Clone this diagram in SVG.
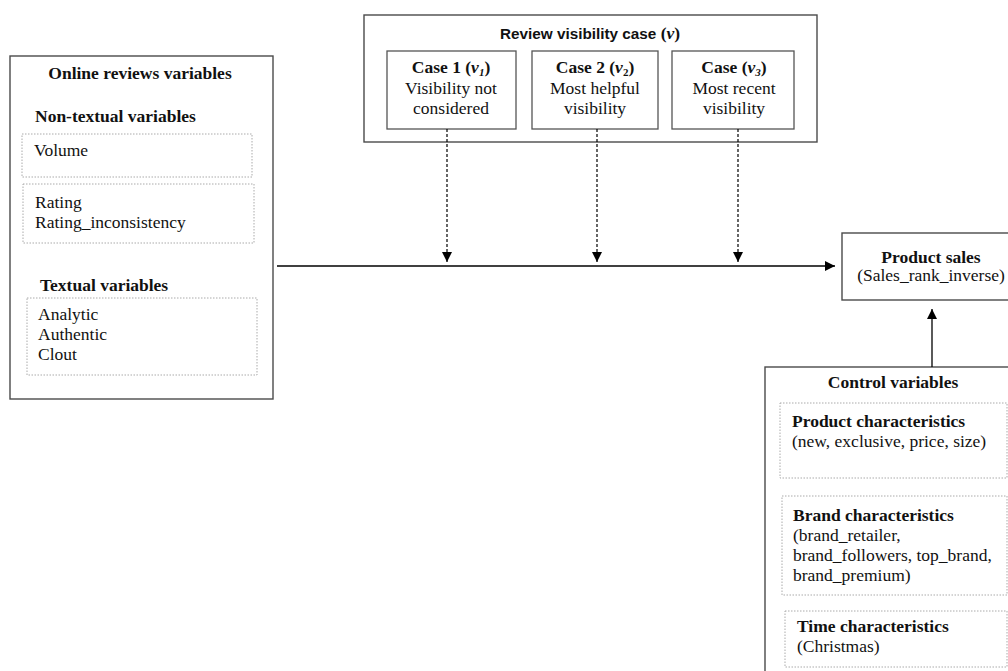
<svg xmlns="http://www.w3.org/2000/svg" width="1008" height="671" viewBox="0 0 1008 671">
<defs>
<marker id="ah" viewBox="0 0 10 10" refX="10" refY="5" markerWidth="10" markerHeight="10" markerUnits="userSpaceOnUse" orient="auto">
<path d="M0,0 L10,5 L0,10 Z" fill="#000"/>
</marker>
</defs>
<style>
text{font-size:17.5px;fill:#111}
.b{font-weight:bold}
.c{text-anchor:middle}
.i{font-style:italic}
.box{fill:#fff;stroke:#4a4a4a;stroke-width:1.4}
.sub{fill:#fff;stroke:#555;stroke-width:1.3}
.dot{fill:none;stroke:#aaa;stroke-width:1;stroke-dasharray:1.5,1.5}
.hd{font-family:"Liberation Sans",Arial,sans-serif;font-weight:bold;font-size:15.3px}
.ln{stroke:#000;stroke-width:1.3;fill:none}
.dl{stroke:#000;stroke-width:1.2;fill:none;stroke-dasharray:3,2}
</style>
<rect width="1008" height="671" fill="#fff"/>
<g font-family="'Liberation Serif', Tinos, 'Times New Roman', 'DejaVu Serif', serif">
<g id="online-reviews">
<rect class="box" x="10" y="56" width="263" height="343"/>
<text class="b c" x="140" y="79">Online reviews variables</text>
<text class="b" x="35" y="122">Non-textual variables</text>
<rect class="dot" x="22" y="134" width="230" height="43"/>
<text x="34" y="156">Volume</text>
<rect class="dot" x="23" y="184" width="231" height="59"/>
<text x="35" y="208">Rating</text>
<text x="35" y="228">Rating_inconsistency</text>
<text class="b" x="40" y="291">Textual variables</text>
<rect class="dot" x="27" y="298" width="230" height="77"/>
<text x="38" y="320">Analytic</text>
<text x="38" y="340">Authentic</text>
<text x="38" y="360">Clout</text>
</g>

<g id="visibility">
<rect class="box" x="364" y="15" width="453" height="127"/>
<text class="c" x="590" y="39"><tspan class="hd">Review visibility case </tspan><tspan class="b">(</tspan><tspan class="b i">v</tspan><tspan class="b">)</tspan></text>
</g>

<g id="case1">
<rect class="sub" x="387" y="51" width="129" height="78"/>
<text class="b c" x="451" y="73">Case 1 (<tspan class="i">v</tspan><tspan class="i" font-size="11" dy="3">1</tspan><tspan dy="-3">)</tspan></text>
<text class="c" x="451" y="94">Visibility not</text>
<text class="c" x="451" y="114">considered</text>
</g>

<g id="case2">
<rect class="sub" x="532" y="51" width="126" height="78"/>
<text class="b c" x="595" y="73">Case 2 (<tspan class="i">v</tspan><tspan font-size="11" dy="3">2</tspan><tspan dy="-3">)</tspan></text>
<text class="c" x="595" y="94">Most helpful</text>
<text class="c" x="595" y="114">visibility</text>
</g>

<g id="case3">
<rect class="sub" x="672" y="51" width="122" height="78"/>
<text class="b c" x="734" y="73">Case (<tspan class="i">v</tspan><tspan class="i" font-size="11" dy="3">3</tspan><tspan dy="-3">)</tspan></text>
<text class="c" x="734" y="94">Most recent</text>
<text class="c" x="734" y="114">visibility</text>
</g>

<g id="product-sales">
<rect class="box" x="842" y="233" width="180" height="67"/>
<text class="b c" x="931" y="263">Product sales</text>
<text class="c" x="931" y="281">(Sales_rank_inverse)</text>
</g>

<g id="control">
<rect class="box" x="765" y="367" width="260" height="320"/>
<text class="b c" x="893" y="388">Control variables</text>
<rect class="dot" x="780" y="403" width="227" height="75"/>
<text class="b" x="792" y="427">Product characteristics</text>
<text x="792" y="447">(new, exclusive, price, size)</text>
<rect class="dot" x="782" y="496" width="225" height="99"/>
<text class="b" x="793" y="521">Brand characteristics</text>
<text x="793" y="541">(brand_retailer,</text>
<text x="793" y="561">brand_followers, top_brand,</text>
<text x="793" y="581">brand_premium)</text>
<rect class="dot" x="785" y="611" width="222" height="56"/>
<text class="b" x="797" y="632">Time characteristics</text>
<text x="797" y="652">(Christmas)</text>
</g>
</g>
<g id="connectors">
<line class="ln" x1="277" y1="266" x2="835" y2="266" marker-end="url(#ah)"/>
<line class="dl" x1="447" y1="129" x2="447" y2="262" marker-end="url(#ah)"/>
<line class="dl" x1="597" y1="129" x2="597" y2="262" marker-end="url(#ah)"/>
<line class="dl" x1="738" y1="129" x2="738" y2="262" marker-end="url(#ah)"/>
<line class="ln" x1="932" y1="367" x2="932" y2="309" marker-end="url(#ah)"/>
</g>
</svg>
